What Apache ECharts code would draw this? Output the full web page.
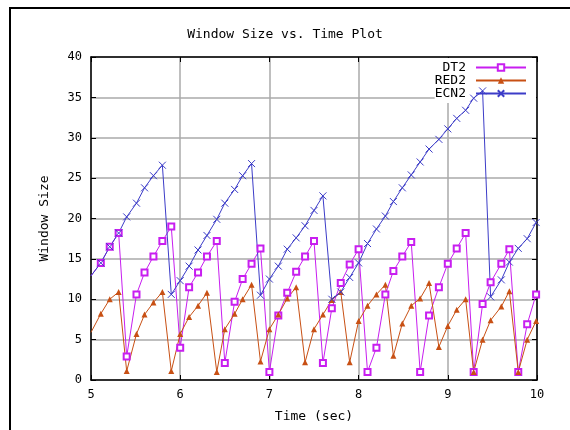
<!DOCTYPE html>
<html><head><meta charset="utf-8">
<script src="https://cdn.jsdelivr.net/npm/echarts@6/dist/echarts.min.js"></script>
<style>html,body{margin:0;padding:0;background:#fff}#c{width:570px;height:430px}</style>
</head><body><div id="c"></div>
<script>
// Time samples (sec)
const times = [5.00,5.11,5.21,5.31,5.40,5.51,5.60,5.70,5.80,5.90,
  6.00,6.10,6.20,6.30,6.41,6.50,6.61,6.70,6.80,6.90,
  7.00,7.10,7.20,7.30,7.40,7.50,7.60,7.70,7.80,7.90,
  8.00,8.10,8.20,8.30,8.39,8.49,8.59,8.69,8.79,8.90,
  9.00,9.10,9.20,9.29,9.39,9.48,9.60,9.69,9.79,9.89,9.99];
const dt2 = [12.9,14.5,16.5,18.2,2.9,10.6,13.3,15.3,17.2,19.0,
  4.0,11.5,13.3,15.3,17.2,2.1,9.7,12.5,14.4,16.3,
  1.0,8.0,10.8,13.4,15.3,17.2,2.1,8.9,12.0,14.3,
  16.2,1.0,4.0,10.6,13.5,15.3,17.1,1.0,8.0,11.5,
  14.4,16.3,18.2,1.0,9.4,12.1,14.4,16.2,1.0,6.9,10.6];
const red2 = [5.9,8.2,10.0,10.9,1.1,5.7,8.1,9.6,10.9,1.1,
  5.7,7.8,9.2,10.8,1.0,6.3,8.2,10.0,11.8,2.3,
  6.3,8.1,10.1,11.5,2.2,6.3,8.1,9.9,10.9,2.2,
  7.3,9.2,10.6,11.8,3.0,7.0,9.2,10.1,12.0,4.1,
  6.7,8.7,10.0,1.0,5.0,7.4,9.1,11.0,1.0,5.0,7.3];
const ecn2 = [12.9,14.5,16.5,18.2,20.2,21.9,23.8,25.3,26.6,10.6,
  12.3,14.1,16.1,17.9,19.9,21.9,23.6,25.3,26.8,10.5,
  12.5,14.1,16.2,17.6,19.1,21.0,22.8,10.0,10.9,12.7,
  14.5,16.9,18.7,20.3,22.1,23.8,25.4,27.0,28.6,29.8,
  31.1,32.4,33.4,34.9,35.8,10.3,12.4,14.6,16.3,17.5,19.5];
const seriesNames = ['DT2','RED2','ECN2'];
const xTicks = [5,6,7,8,9,10];
const yTicks = [0,5,10,15,20,25,30,35,40];

const FONT = 'DejaVu Sans Mono';
const colors = ['#c81ef0','#c85014','#3c3cc8'];
function pts(arr){
  return times.map((t,i)=> i===0 ? {value:[t,arr[i]], symbol:'none'} : [t,arr[i]]);
}
const chart = echarts.init(document.getElementById('c'), null, {renderer:'canvas'});
const axCommon = {
  type:'value', axisLine:{show:true,onZero:false,lineStyle:{color:'#000',width:1.5}},
  axisTick:{show:true,inside:true,length:5,lineStyle:{color:'#000',width:1}},
};
chart.setOption({
  animation:false,
  backgroundColor:'#fff',
  title:{text:'Window Size vs. Time Plot', left:'center', top:28, padding:0,
    textStyle:{fontFamily:FONT,fontSize:13,fontWeight:'normal',color:'#000'}},
  graphic:[{type:'rect', shape:{x:10,y:8,width:640,height:500},
    style:{fill:'none',stroke:'#000',lineWidth:2}, silent:true, z:100}],
  grid:{left:91, right:33, top:57, bottom:50, containLabel:false},
  legend:{
    data:seriesNames, orient:'vertical', right:34, top:58, align:'right',
    itemWidth:50, itemHeight:8, itemGap:0, padding:[3,9,3,0],
    backgroundColor:'#fff', z:1,
    textStyle:{fontFamily:FONT,fontSize:13,color:'#000',lineHeight:13,padding:[0,5,0,0]}
  },
  xAxis:[
    Object.assign({}, axCommon, {min:xTicks[0], max:xTicks[xTicks.length-1], interval:1, position:'bottom',
      name:'Time (sec)', nameLocation:'middle', nameGap:30,
      nameTextStyle:{fontFamily:FONT,fontSize:13,color:'#000'},
      axisLabel:{fontFamily:FONT,fontSize:12,color:'#000',margin:9},
      splitLine:{show:true,lineStyle:{color:'#aaaaaa',width:1.5}}}),
    Object.assign({}, axCommon, {min:xTicks[0], max:xTicks[xTicks.length-1], interval:1, position:'top',
      axisLabel:{show:false}, splitLine:{show:false}})
  ],
  yAxis:[
    Object.assign({}, axCommon, {min:yTicks[0], max:yTicks[yTicks.length-1], interval:5, position:'left',
      name:'Window Size', nameLocation:'middle', nameGap:40, nameRotate:90,
      nameTextStyle:{fontFamily:FONT,fontSize:13,color:'#000'},
      axisLabel:{fontFamily:FONT,fontSize:12,color:'#000',margin:9},
      splitLine:{show:true,lineStyle:{color:'#aaaaaa',width:1.5}}}),
    Object.assign({}, axCommon, {min:yTicks[0], max:yTicks[yTicks.length-1], interval:5, position:'right',
      axisLabel:{show:false}, splitLine:{show:false}})
  ],
  series:[
    {name:seriesNames[0], type:'line', data:pts(dt2), symbol:'emptyRect', symbolSize:6,
      lineStyle:{color:colors[0],width:1}, itemStyle:{color:colors[0],borderColor:colors[0],borderWidth:1}, z:3},
    {name:seriesNames[1], type:'line', data:pts(red2), symbol:'triangle', symbolSize:6,
      lineStyle:{color:colors[1],width:1}, itemStyle:{color:colors[1],borderColor:colors[1],borderWidth:0}, z:3},
    {name:seriesNames[2], type:'line', data:pts(ecn2), symbol:'path://M0,0L10,10M10,0L0,10', symbolSize:7,
      lineStyle:{color:colors[2],width:1}, itemStyle:{color:colors[2],borderColor:colors[2],borderWidth:1}, z:3}
  ]
});
</script>
</body></html>
